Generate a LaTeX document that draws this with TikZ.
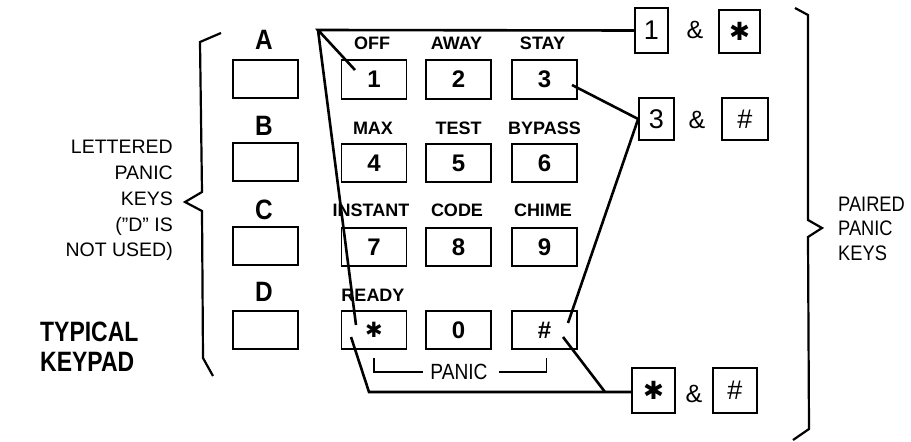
\documentclass[tikz,border=0pt]{standalone}
\usepackage{fontspec}
\setmainfont{Liberation Sans}
\newfontfamily\kpnarrow{Liberation Sans}[FakeStretch=0.87]
\newfontfamily\kpnarrowb{Liberation Sans}[FakeStretch=0.82]
\newfontfamily\dejavu{DejaVu Sans}
\begin{document}
\begin{tikzpicture}[x=1pt,y=-1pt,
  every node/.style={inner sep=0pt},
  keybox/.style={draw, line width=1.7pt, minimum width=65pt, minimum height=38.5pt, font=\fontsize{24}{24}\selectfont\bfseries},
  lettbox/.style={draw, line width=1.7pt, minimum width=65pt, minimum height=38.5pt},
  keylbl/.style={anchor=base, font=\fontsize{18}{18}\selectfont\bfseries},
  letter/.style={anchor=base, font=\kpnarrow\fontsize{28}{28}\selectfont\bfseries},
  side/.style={font=\fontsize{19.5}{20}\selectfont},
  rside/.style={anchor=base west, font=\kpnarrow\fontsize{21}{21}\selectfont},
  title/.style={anchor=base west, font=\kpnarrowb\fontsize{28}{28}\selectfont\bfseries},
  pairbox/.style={draw, line width=1.7pt, font=\fontsize{27}{27}\selectfont},
  amp/.style={anchor=base, font=\fontsize{25}{25}\selectfont},
  conn/.style={line width=2.6pt},
  bracket/.style={line width=1.7pt},
  brace/.style={line width=2.2pt, line join=miter}
]
\useasboundingbox (0,0) rectangle (911,442);

% number keys
\node[keybox] (k1) at (374,79.5) {1};
\node[keybox] (k2) at (458.5,79.5) {2};
\node[keybox] (k3) at (544.5,79.5) {3};
\node[keybox] (k4) at (374,163) {4};
\node[keybox] (k5) at (458.5,163) {5};
\node[keybox] (k6) at (544.5,163) {6};
\node[keybox] (k7) at (374,247) {7};
\node[keybox] (k8) at (458.5,247) {8};
\node[keybox] (k9) at (544.5,247) {9};
\node[keybox] (ks) at (374,330) {\dejavu\fontsize{21}{21}\selectfont ✱};
\node[keybox] (k0) at (458.5,330) {0};
\node[keybox] (kh) at (544.5,330) {\#};

% key labels
\node[keylbl] (lOFF) at (372,49.3) {OFF};
\node[keylbl] (lAWAY) at (456.5,49.3) {AWAY};
\node[keylbl] (lSTAY) at (542.5,49.3) {STAY};
\node[keylbl] (lMAX) at (373,134.5) {MAX};
\node[keylbl] (lTEST) at (458.5,134.5) {TEST};
\node[keylbl] (lBYP) at (544.5,134.5) {BYPASS};
\node[keylbl] (lINS) at (371,216.7) {INSTANT};
\node[keylbl] (lCODE) at (457,216.7) {CODE};
\node[keylbl] (lCHIME) at (543,216.7) {CHIME};
\node[keylbl] (lREADY) at (373,301.5) {READY};

% lettered keys
\node[lettbox] (bA) at (265.5,79) {};
\node[lettbox] (bB) at (265.5,162) {};
\node[lettbox] (bC) at (265.5,246) {};
\node[lettbox] (bD) at (265.5,330) {};
\node[letter] (tA) at (264,49.3) {A};
\node[letter] (tB) at (264,135) {B};
\node[letter] (tC) at (264,219) {C};
\node[letter] (tD) at (264,301.7) {D};

% left side text
\node[side, anchor=base east] (s1) at (173,153.7) {LETTERED};
\node[side, anchor=base east] (s2) at (173,179.3) {PANIC};
\node[side, anchor=base east] (s3) at (173,205) {KEYS};
\node[side, anchor=base east] (s4) at (173,231.7) {("D" IS};
\node[side, anchor=base east] (s5) at (173,256) {NOT USED)};

% title
\node[title] (t1) at (40,341.7) {TYPICAL};
\node[title] (t2) at (40,371.7) {KEYPAD};

% right side text
\node[rside] (r1) at (838,211.7) {PAIRED};
\node[rside] (r2) at (838,235) {PANIC};
\node[rside] (r3) at (838,260) {KEYS};

% pair boxes
\node[pairbox, minimum width=33pt, minimum height=45pt] (p1) at (651.5,30.5) {1};
\node[amp] (a1) at (695,38) {\&};
\node[pairbox, minimum width=41pt, minimum height=43pt] (pS1) at (739.5,31.5) {\dejavu\bfseries\fontsize{25}{25}\selectfont ✱};
\node[pairbox, minimum width=35pt, minimum height=42pt] (p3) at (656.5,119) {3};
\node[amp] (a2) at (697,128) {\&};
\node[pairbox, minimum width=46pt, minimum height=42pt] (pH1) at (745,119) {\#};
\node[pairbox, minimum width=43pt, minimum height=45pt] (pS2) at (653.5,390.5) {\dejavu\bfseries\fontsize{25}{25}\selectfont ✱};
\node[amp] (a3) at (694,402) {\&};
\node[pairbox, minimum width=44pt, minimum height=45pt] (pH2) at (735,390.5) {\#};

% PANIC bracket
\node[anchor=base, font=\kpnarrow\fontsize{22}{22}\selectfont] (panic) at (459,379.3) {PANIC};
\draw[bracket] ([yshift=-8pt]ks.south) |- ([xshift=-7pt]panic.west);
\draw[bracket] ([xshift=11pt]panic.east) -| ([xshift=2pt,yshift=-8pt]kh.south);

% connectors
\coordinate (apex) at (318,30);
\coordinate (k1in) at (355,70);
\coordinate (ksin) at (356,325);
\coordinate (ksout) at (351,337);
\coordinate (bendS) at (369,392);
\coordinate (khout) at (563,337);
\coordinate (joinH) at (605,392);
\coordinate (k3in) at (572,85);
\coordinate (khin) at (568,323);
\draw[conn] (p1.west) -- (apex) -- (k1in);
\draw[conn] (apex) -- (ksin);
\draw[conn] (ksout) -- (bendS) -- (bendS -| pS2.west);
\draw[conn] (khout) -- (joinH);
\draw[conn] (k3in) -- (p3.west) -- (khin);

% braces
\draw[brace] (221,33) -- (200,42) -- (202,192) -- (185,202) -- (202,211) -- (203,358) -- (213,376);
\draw[brace] (795,8) -- (808,15) -- (808,220) -- (822,228) -- (808,237) -- (809,429) -- (793,440);
\end{tikzpicture}
\end{document}
